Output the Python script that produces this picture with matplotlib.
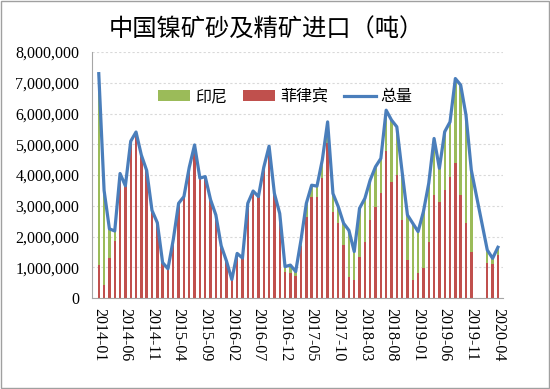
import numpy as np
import pandas as pd
import matplotlib
matplotlib.use("Agg")
import matplotlib.pyplot as plt
from matplotlib.patches import Rectangle
from matplotlib.ticker import FuncFormatter

plt.rcParams['font.family'] = ['Noto Sans CJK SC', 'DejaVu Sans']

# monthly imports, million tonnes (NaN = no data that month)
months = pd.date_range('2014-01', periods=76, freq='MS').strftime('%Y-%m').tolist()

philippines = [1.07, 0.42, 1.29, 1.85, 4.05, 3.65, 5.10, 5.40, 4.65, 4.15,
               2.85, 2.45, 1.15, 0.95, 1.90, 3.08, 3.30, 4.25, 4.98, 3.90,
               3.95, 3.20, 2.70, 1.70, 1.20, 0.60, 1.45, 1.30, 3.08, 3.48,
               3.30, 4.25, 4.94, 3.40, 2.75, 0.85, 0.80, 0.72, 1.70, 2.65,
               3.30, 3.30, 3.90, 5.03, 2.81, 2.43, 1.72, 0.69, 0.59, 1.34,
               1.83, 2.54, 2.97, 3.40, 4.77, 3.78, 4.00, 2.54, 1.24, 0.59,
               0.80, 0.96, 1.83, 3.35, 3.13, 3.51, 3.94, 4.38, 3.35, 2.43,
               1.51, np.nan, np.nan, 1.13, 1.10, 1.40]

indonesia = [6.23, 3.08, 0.96, 0.33, 0, 0, 0, 0, 0, 0,
             0, 0, 0, 0, 0, 0, 0, 0, 0, 0,
             0, 0, 0, 0, 0, 0, 0, 0, 0, 0,
             0, 0, 0, 0, 0, 0.17, 0.27, 0.14, 0.19, 0.43,
             0.37, 0.34, 0.59, 0.70, 0.59, 0.54, 0.71, 1.51, 0.92, 1.58,
             1.41, 1.30, 1.30, 1.14, 1.34, 2.01, 1.57, 1.56, 1.46, 1.84,
             1.36, 1.85, 1.90, 1.84, 1.09, 1.90, 1.79, 2.76, 3.58, 3.52,
             2.65, np.nan, np.nan, 0.43, 0.19, 0.25]

ph = np.array(philippines) * 1e6
idn = np.array(indonesia) * 1e6
total = ph + idn
x = np.arange(len(months))

fig = plt.figure(figsize=(5.5, 3.89), dpi=100)
ax = fig.add_axes([0.167, 0.234, 0.748, 0.632])

ax.bar(x, ph, width=0.45, color='#C0504D', label='菲律宾', zorder=2)
ax.bar(x, idn, width=0.45, bottom=ph, color='#9BBB59', label='印尼', zorder=2)
ok = ~np.isnan(total)
ax.plot(x[ok], total[ok], color='#4A7EBB', lw=2.3, label='总量', zorder=3)

ax.set_ylim(0, 8e6)
ax.set_xlim(-1.3, 76.0)
ax.set_yticks(np.arange(0, 8e6 + 1, 1e6))
ax.yaxis.set_major_formatter(FuncFormatter(lambda v, p: f'{int(v):,}'))
ax.set_xticks(x[::5])
ax.set_xticklabels(months[::5], rotation=-90)
ax.grid(axis='y', color='#D9D9D9', ls=(0, (2, 2)), lw=0.8, zorder=0)
ax.tick_params(length=0)
ax.tick_params(axis='y', pad=9)
ax.tick_params(axis='x', pad=7)
for lab in ax.get_xticklabels() + ax.get_yticklabels():
    lab.set_family('Liberation Serif')
    lab.set_fontsize(11.5)
for s in ['top', 'right']:
    ax.spines[s].set_visible(False)
ax.spines['left'].set_color('#A6A6A6')
ax.spines['bottom'].set_color('#A6A6A6')

h, l = ax.get_legend_handles_labels()
order = [2, 1, 0]
ax.legend([h[i] for i in order], [l[i] for i in order], loc='center',
          bbox_to_anchor=(0.519, 0.751), bbox_transform=fig.transFigure,
          ncol=3, frameon=False, fontsize=11.5, handlelength=2.0,
          handleheight=0.65, handletextpad=0.3, columnspacing=1.0)

fig.text(0.485, 0.923, '中国镍矿砂及精矿进口（吨）', ha='center', va='center',
         fontsize=17.5)
fig.patches.append(Rectangle((0.002, 0.003), 0.996, 0.994, transform=fig.transFigure,
                             fill=False, edgecolor='#A0A0A0', lw=1))

fig.savefig('out.png', dpi=100)
